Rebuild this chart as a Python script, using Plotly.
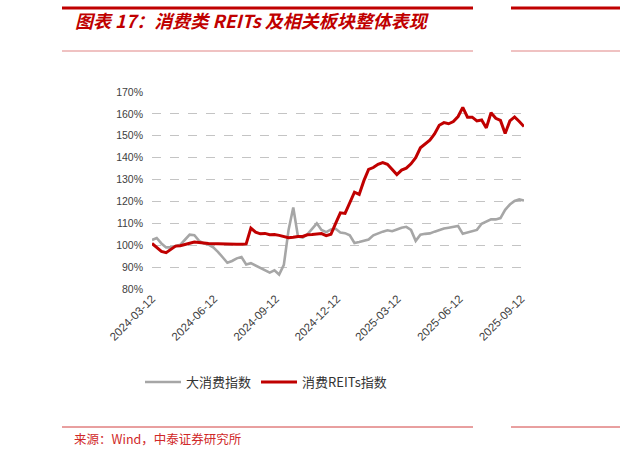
import pandas as pd
import plotly.graph_objs as go

# weekly readings from 2024-03-12
dates = pd.date_range("2024-03-12", periods=80, freq="7D")

reits = [100.8, 99.0, 97.2, 96.6, 98.0, 99.6, 99.8, 100.5, 100.9, 101.5,
         101.4, 101.0, 100.8, 100.7, 100.7, 100.6, 100.6, 100.6, 100.5, 100.5,
         100.6, 107.8, 106.0, 105.2, 105.4, 104.8, 104.9, 104.5, 104.0, 103.4,
         103.6, 104.0, 104.0, 104.8, 104.9, 105.0, 105.3, 104.4, 105.0, 110.0,
         114.8, 114.5, 119.0, 124.2, 123.2, 129.5, 134.6, 135.5, 137.0, 137.8,
         137.0, 134.5, 132.3, 134.3, 135.2, 137.2, 140.0, 144.5, 146.2, 148.0,
         150.8, 154.8, 156.0, 155.5, 156.5, 158.8, 163.0, 158.5, 158.5, 156.8,
         157.2, 153.6, 160.5, 158.0, 157.0, 151.0, 156.8, 158.6, 156.5, 154.2]

consume = [102.4, 103.3, 100.8, 99.0, 99.0, 99.5, 100.2, 102.5, 104.8, 104.6,
           102.0, 100.8, 100.3, 99.0, 97.0, 94.5, 92.0, 92.8, 94.0, 94.6,
           91.2, 91.8, 90.8, 89.5, 88.8, 87.5, 88.5, 86.6, 91.0, 107.0,
           117.2, 104.0, 103.5, 105.0, 107.5, 110.0, 107.0, 106.0, 107.2, 107.5,
           105.8, 105.5, 104.5, 101.0, 101.5, 102.0, 102.6, 104.5, 105.5, 106.2,
           106.8, 106.4, 107.2, 108.0, 108.4, 107.0, 102.0, 104.8, 105.2, 105.4,
           106.2, 107.0, 107.6, 108.0, 108.4, 108.8, 105.2, 105.8, 106.4, 107.0,
           109.8, 110.8, 111.8, 111.8, 112.4, 116.2, 118.6, 120.2, 120.9, 120.4]

tick_dates = ["2024-03-12", "2024-06-12", "2024-09-12", "2024-12-12",
              "2025-03-12", "2025-06-12", "2025-09-12"]
y_ticks = [80, 90, 100, 110, 120, 130, 140, 150, 160, 170]
y_labels = [f"{v}%" for v in y_ticks]

W, H = 620, 458
L, R, T, B = 152, 524, 92, 289
FONT = "Noto Sans CJK SC"
RED = "#C00000"


def px_x(px):
    return (px - L) / (R - L)


def px_y(py):
    return (B - py) / (B - T)


data = [
    go.Scatter(x=dates, y=consume, mode="lines", name="大消费指数",
               line=dict(color="#A6A6A6", width=2.6)),
    go.Scatter(x=dates, y=reits, mode="lines", name="消费REITs指数",
               line=dict(color=RED, width=3)),
]

fig = go.Figure(data=data)

shapes = [
    dict(type="line", xref="paper", yref="paper", x0=px_x(62), x1=px_x(473),
         y0=px_y(8), y1=px_y(8), line=dict(color=RED, width=3)),
    dict(type="line", xref="paper", yref="paper", x0=px_x(511), x1=px_x(625),
         y0=px_y(8), y1=px_y(8), line=dict(color=RED, width=3)),
    dict(type="line", xref="paper", yref="paper", x0=px_x(62), x1=px_x(473),
         y0=px_y(51), y1=px_y(51), line=dict(color="#E08585", width=1)),
    dict(type="line", xref="paper", yref="paper", x0=px_x(511), x1=px_x(625),
         y0=px_y(51), y1=px_y(51), line=dict(color="#E08585", width=1)),
    dict(type="line", xref="paper", yref="paper", x0=px_x(62), x1=px_x(473),
         y0=px_y(427), y1=px_y(427), line=dict(color="#D24040", width=1)),
    dict(type="line", xref="paper", yref="paper", x0=px_x(511), x1=px_x(625),
         y0=px_y(427), y1=px_y(427), line=dict(color="#D24040", width=1)),
]

annotations = [
    dict(text="来源：Wind，中泰证券研究所", xref="paper", yref="paper",
         x=px_x(72), y=px_y(439), xanchor="left", yanchor="middle",
         showarrow=False, font=dict(family=FONT, size=12.5, color="#D02828")),
]

fig.update_layout(
    width=W, height=H,
    margin=dict(l=L, r=W - R, t=T, b=H - B),
    paper_bgcolor="white", plot_bgcolor="white",
    font=dict(family=FONT, color="#404040"),
    title=dict(text="<b><i>图表 17：消费类 REITs 及相关板块整体表现</i></b>",
               xref="container", yref="container", x=75 / W, y=1 - 22 / H,
               xanchor="left", yanchor="middle",
               font=dict(family=FONT, size=18, color=RED)),
    legend=dict(orientation="h", xref="container", yref="container",
                x=266 / W, y=1 - 382 / H, xanchor="center", yanchor="middle",
                font=dict(family=FONT, size=13, color="#333333"),
                itemwidth=36, tracegroupgap=0),
    shapes=shapes,
    annotations=annotations,
    xaxis=dict(type="date", range=["2024-03-12", "2025-09-16"],
               tickvals=tick_dates, ticktext=tick_dates, tickangle=-45,
               showgrid=False, showline=False, zeroline=False, ticks="",
               tickfont=dict(family="Liberation Sans", size=11.5, color="#404040")),
    yaxis=dict(range=[80, 170], tickvals=y_ticks, ticktext=y_labels,
               showgrid=True, gridcolor="#C4C4C4", griddash="dash", gridwidth=1,
               zeroline=False, showline=False, ticks="", ticklabelstandoff=8,
               tickfont=dict(family="Liberation Sans", size=10.5, color="#404040")),
)

# page has an 8px body margin by default; drop it so the figure sits at 0,0
fig.write_html("out.html", config={"displayModeBar": False},
               post_script="document.body.style.margin='0';")
